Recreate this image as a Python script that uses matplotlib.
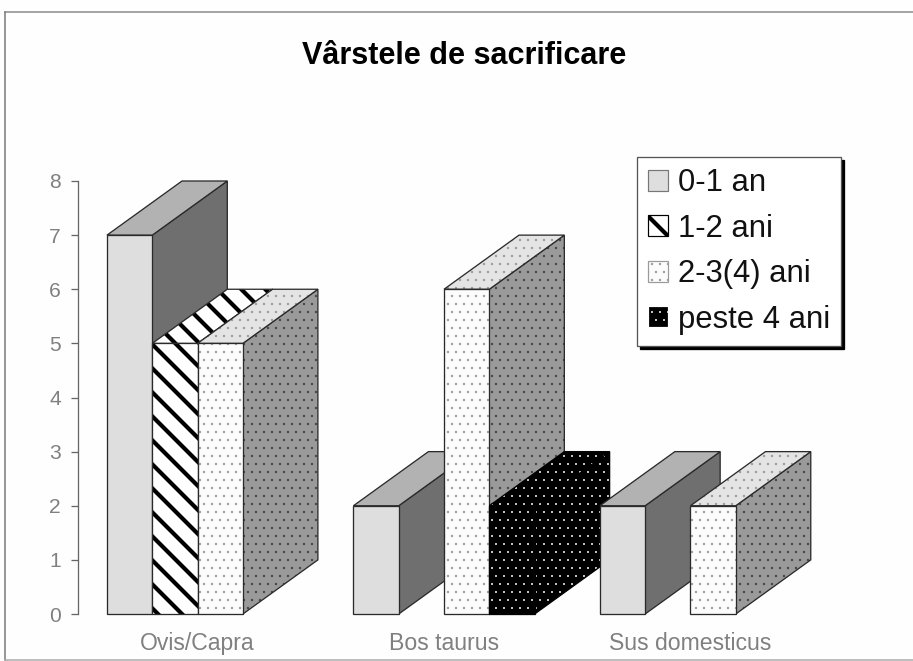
import matplotlib
matplotlib.use("Agg")
import matplotlib.pyplot as plt
from matplotlib.lines import Line2D
from matplotlib.patches import Polygon, Patch

W, H = 913, 661
DPI = 144
PT = 72 / DPI  # one pixel in points

categories = ["Ovis/Capra", "Bos taurus", "Sus domesticus"]
series_names = ["0-1 an", "1-2 ani", "2-3(4) ani", "peste 4 ani"]
v_0_1 = [7, 2, 2]
v_1_2 = [5, 0, 0]
v_2_3 = [5, 6, 2]
v_4 = [0, 2, 0]
series_values = [v_0_1, v_1_2, v_2_3, v_4]
y_ticks = [0, 1, 2, 3, 4, 5, 6, 7, 8]

# front, top, side colours and hatch of each series
fronts = ["#dedede", "#ffffff", "#fcfcfc", "#000000"]
tops = ["#b2b2b2", "#ffffff", "#e4e4e4", "#000000"]
sides = ["#6f6f6f", "#777777", "#9a9a9a", "#000000"]
hatches = [None, "\\\\", "...", "..."]
hatch_cols = [None, "#000000", "#9a9a9a", "#ffffff"]
side_hatch_cols = [None, "#000000", "#444444", "#ffffff"]
hatch_lws = [0, 4.2 * PT, 0.8 * PT, 0.4 * PT]
outlines = ["#2a2a2a", "#2a2a2a", "#2a2a2a", "#000000"]

plt.rcParams["font.family"] = ["Liberation Sans", "DejaVu Sans"]

fig = plt.figure(figsize=(W / DPI, H / DPI), dpi=DPI, facecolor="#fefefe")


def px_box(x0, y_top, x1, y_bottom):
    return [x0 / W, 1 - y_bottom / H, (x1 - x0) / W, (y_bottom - y_top) / H]


ax = fig.add_axes(px_box(78, 181, 840, 614))
ax.patch.set_alpha(0)

slot_px = 45.3
group_step = 5.44
depth_x = 75 / slot_px
depth_y = 1.0
ax.set_xlim(-29 / slot_px, (840 - 107) / slot_px)
ax.set_ylim(0, 8)


def face(points, col, s, hatch_col, z):
    if hatches[s]:
        plt.rcParams["hatch.linewidth"] = hatch_lws[s]
        ax.add_patch(Polygon(points, closed=True, facecolor=col, edgecolor=hatch_col,
                             hatch=hatches[s], lw=0, clip_on=False, zorder=z))
    else:
        ax.add_patch(Polygon(points, closed=True, facecolor=col, edgecolor="none",
                             clip_on=False, zorder=z))
    ax.add_patch(Polygon(points, closed=True, fill=False, edgecolor=outlines[s], lw=1.3 * PT,
                         clip_on=False, zorder=z))


z = 2
for g in range(len(categories)):
    for s in range(len(series_names)):
        val = series_values[s][g]
        if val == 0:
            continue
        x0 = g * group_step + s
        x1 = x0 + 1
        # side, top, then front so that later bars paint over earlier ones
        face([(x1, 0), (x1 + depth_x, depth_y), (x1 + depth_x, val + depth_y), (x1, val)],
             sides[s], s, side_hatch_cols[s], z)
        face([(x0, val), (x1, val), (x1 + depth_x, val + depth_y), (x0 + depth_x, val + depth_y)],
             tops[s], s, hatch_cols[s], z)
        face([(x0, 0), (x1, 0), (x1, val), (x0, val)],
             fronts[s], s, hatch_cols[s], z)
        z += 1

for side in ["top", "right", "bottom"]:
    ax.spines[side].set_visible(False)
ax.spines["left"].set_color("#666666")
ax.spines["left"].set_linewidth(1.3 * PT)
ax.set_yticks(y_ticks)
ax.tick_params(axis="y", length=7 * PT, width=1.3 * PT, color="#666666", labelcolor="#808080",
               labelsize=21 * PT, pad=10 * PT)
ax.set_xticks([g * group_step + 2 for g in range(len(categories))])
ax.set_xticklabels(categories)
ax.tick_params(axis="x", length=0, labelcolor="#808080", labelsize=23 * PT, pad=18 * PT)

fig.text(464 / W, 1 - 56 / H, "Vârstele de sacrificare", ha="center", va="center",
         fontsize=30.5 * PT, fontweight="bold", color="#000000")

# legend
handles = []
for s in range(len(series_names)):
    handles.append(Patch(facecolor=fronts[s], edgecolor=hatch_cols[s] or "#777777",
                         hatch=hatches[s], lw=1.2 * PT))
leg = ax.legend(handles, series_names, loc="upper left", bbox_to_anchor=(637 / W, 1 - 157 / H),
                bbox_transform=fig.transFigure, borderaxespad=0, fontsize=31 * PT,
                handlelength=0.65, handleheight=0.65, handletextpad=0.3, labelspacing=0.5,
                borderpad=0.36, fancybox=False, framealpha=1, edgecolor="#555555",
                shadow={"ox": 3 * PT, "oy": -3 * PT, "color": "black", "alpha": 1})
leg.get_frame().set_linewidth(1.3 * PT)
leg.set_zorder(50)
for t in leg.get_texts():
    t.set_color("#111111")
for s, p in enumerate(leg.get_patches()):
    p.set_hatch_linewidth(hatch_lws[s])

# outer frame of the chart: top, left and bottom only
fig.add_artist(Line2D([5 / W, 1], [1 - 12 / H, 1 - 12 / H], color="#8a8a8a", lw=1.5 * PT))
fig.add_artist(Line2D([5 / W, 5 / W], [1 - 12 / H, 1 - 660 / H], color="#777777", lw=1.5 * PT))
fig.add_artist(Line2D([5 / W, 1], [1 - 660 / H, 1 - 660 / H], color="#aaaaaa", lw=1.5 * PT))

fig.savefig("out.png", dpi=DPI, facecolor=fig.get_facecolor())
